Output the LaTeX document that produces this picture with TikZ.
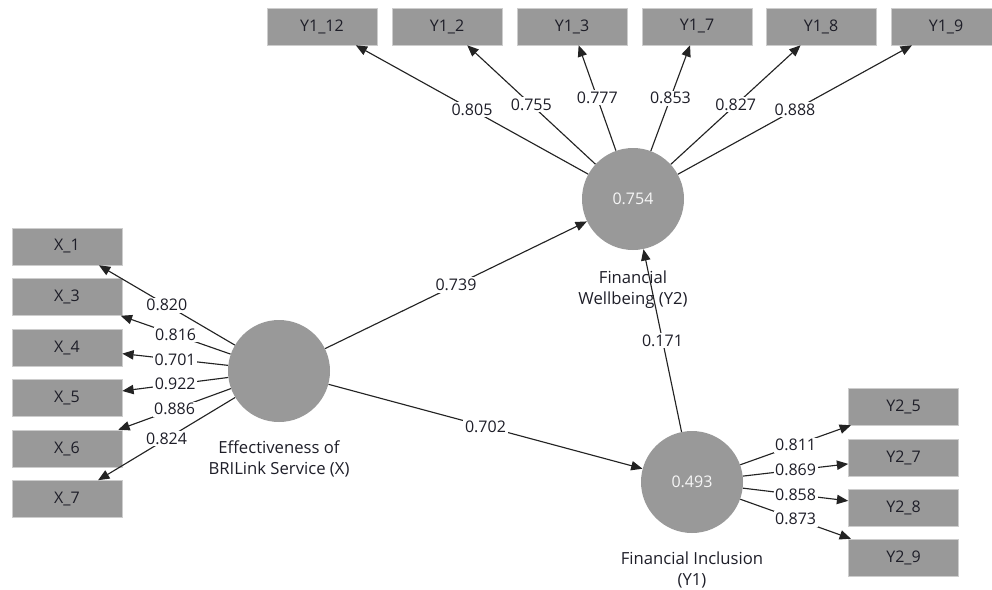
\documentclass[tikz,border=0pt]{standalone}
\usepackage{fontspec}
\setmainfont{Open Sans}
\usetikzlibrary{arrows.meta}
\definecolor{fillgray}{RGB}{153,153,153}
\definecolor{edgegray}{RGB}{205,205,205}
\definecolor{txtdark}{RGB}{30,30,40}
\definecolor{linecol}{RGB}{35,35,35}
\begin{document}
\begin{tikzpicture}[x=0.75pt,y=-0.75pt,
  ind/.style={rectangle, fill=fillgray, draw=edgegray, line width=0.4pt, minimum width=82.5pt, minimum height=27.75pt, inner sep=0pt, text=txtdark, font=\fontsize{12}{14}\selectfont},
  lat/.style={circle, fill=fillgray, minimum size=76.5pt, inner sep=0pt, text=white!93!gray, font=\fontsize{12}{14}\selectfont},
  nm/.style={align=center, text=txtdark, font=\fontsize{12.5}{15.75}\selectfont, inner sep=0pt},
  arr/.style={draw=linecol, line width=0.85pt, -{Triangle[length=8.5pt,width=7pt]}},
  lbl/.style={fill=white, inner sep=1.2pt, text=txtdark, font=\fontsize{12}{14}\selectfont}]
\useasboundingbox (0,0) rectangle (992,589);
% latent variables
\node[lat] (X) at (279,371) {};
\node[lat] (Y2) at (633,199) {0.754};
\node[lat] (Y1) at (692,482) {0.493};
\node[nm] (Xn) at (279,459) {Effectiveness of\\BRILink Service (X)};
\node[nm] (Y2n) at (633,290) {Financial\\Wellbeing (Y2)};
\node[nm] (Y1n) at (692,570) {Financial Inclusion\\(Y1)};
% indicators X
\node[ind] (X1) at (67,246.5) {X\_1};
\node[ind] (X3) at (67,297) {X\_3};
\node[ind] (X4) at (67,347.5) {X\_4};
\node[ind] (X5) at (67,398) {X\_5};
\node[ind] (X6) at (67,448.5) {X\_6};
\node[ind] (X7) at (67,499) {X\_7};
% indicators Y1
\node[ind] (A12) at (322,26.5) {Y1\_12};
\node[ind] (A2) at (447,26.5) {Y1\_2};
\node[ind] (A3) at (572,26.5) {Y1\_3};
\node[ind] (A7) at (697,26.5) {Y1\_7};
\node[ind] (A8) at (821,26.5) {Y1\_8};
\node[ind] (A9) at (946,26.5) {Y1\_9};
% indicators Y2
\node[ind] (B5) at (903.5,406.5) {Y2\_5};
\node[ind] (B7) at (903.5,457.5) {Y2\_7};
\node[ind] (B8) at (903.5,507.5) {Y2\_8};
\node[ind] (B9) at (903.5,557.5) {Y2\_9};
% loadings X
\draw[arr] (X) -- node[lbl]{0.820} (X1);
\draw[arr] (X) -- node[lbl]{0.816} (X3);
\draw[arr] (X) -- node[lbl]{0.701} (X4);
\draw[arr] (X) -- node[lbl]{0.922} (X5);
\draw[arr] (X) -- node[lbl]{0.886} (X6);
\draw[arr] (X) -- node[lbl]{0.824} (X7);
% loadings Y2 (Financial Wellbeing)
\draw[arr] (Y2) -- node[lbl]{0.805} (A12);
\draw[arr] (Y2) -- node[lbl]{0.755} (A2);
\draw[arr] (Y2) -- node[lbl]{0.777} (A3);
\draw[arr] (Y2) -- node[lbl]{0.853} (A7);
\draw[arr] (Y2) -- node[lbl]{0.827} (A8);
\draw[arr] (Y2) -- node[lbl]{0.888} (A9);
% loadings Y1 (Financial Inclusion)
\draw[arr] (Y1) -- node[lbl]{0.811} (B5);
\draw[arr] (Y1) -- node[lbl]{0.869} (B7);
\draw[arr] (Y1) -- node[lbl]{0.858} (B8);
\draw[arr] (Y1) -- node[lbl]{0.873} (B9);
% structural paths
\draw[arr] (X) -- node[lbl]{0.739} (Y2);
\draw[arr] (X) -- node[lbl]{0.702} (Y1);
\draw[arr] (Y1) -- node[lbl]{0.171} (Y2);
\end{tikzpicture}
\end{document}
